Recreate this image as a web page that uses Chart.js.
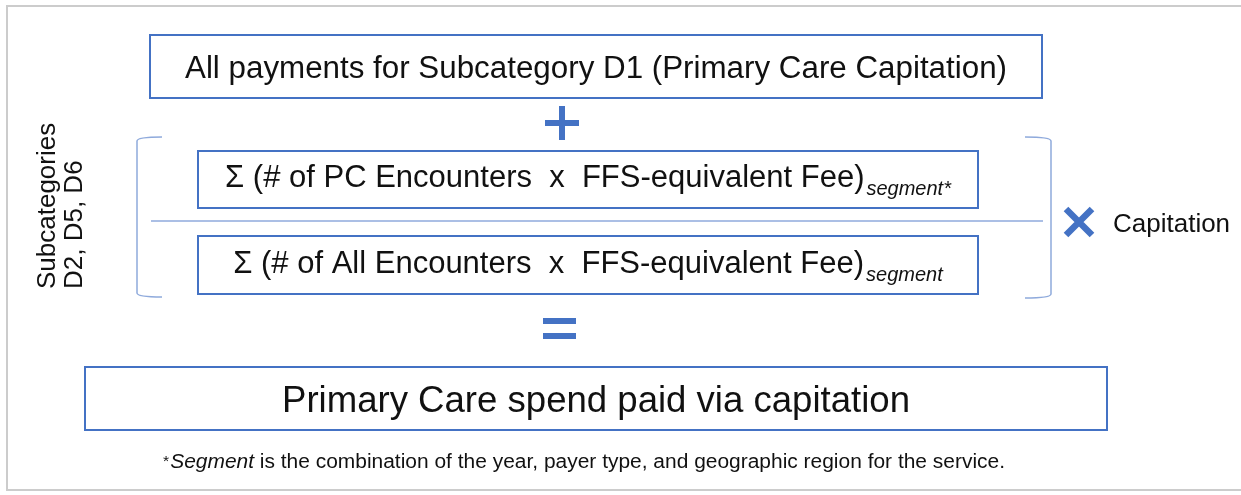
<!DOCTYPE html>
<html><head><meta charset="utf-8">
<script src="https://cdn.jsdelivr.net/npm/chart.js@4/dist/chart.umd.min.js"></script>
<style>html,body{margin:0;padding:0;background:#fff;overflow:hidden}canvas{display:block}</style>
</head><body>
<canvas id="c" width="1241" height="495"></canvas>
<script>
// ---- content (text only) ----
const headerTerms = ["All payments for Subcategory D1 (Primary Care Capitation)"];
const numeratorTerms = ["\u03A3 (# of PC Encounters  x  FFS-equivalent Fee)", "segment*"];
const denominatorTerms = ["\u03A3 (# of All Encounters  x  FFS-equivalent Fee)", "segment"];
const resultTerms = ["Primary Care spend paid via capitation"];
const sideLabels = ["Subcategories", "D2, D5, D6"];
const multiplierLabels = ["Capitation"];
const footnoteParts = ["*", "Segment", " is the combination of the year, payer type, and geographic region for the service."];

// ---- layout (diagram coordinates, mapped through chart scales) ----
const L = {
  frame: {x0: 7, y0: 6, x1: 1250, y1: 490},
  header: {x0: 150, y0: 35, x1: 1042, y1: 98, base: 78, size: 31, w: 822},
  plus: {cx: 562, cy: 123, len: 34, th: 6},
  num: {x0: 198, y0: 151, x1: 978, y1: 208, base: 187, size: 31, subSize: 20, subDy: 8},
  divider: {x0: 151, x1: 1043, y: 221},
  den: {x0: 198, y0: 236, x1: 978, y1: 294, base: 273, size: 31, subSize: 20, subDy: 8},
  leftBr: {x: 137, y0: 138, y1: 296, tick: 25},
  rightBr: {x: 1051, y0: 138, y1: 297, tick: -26},
  times: {cx: 1079, cy: 222, half: 13, th: 6.5},
  capLabel: {x: 1113, base: 232, size: 26},
  side: {y: 289, b1: 55, b2: 82, size: 26},
  equals: {x0: 543, x1: 576, y1: 321, y2: 336, th: 6},
  result: {x0: 85, y0: 367, x1: 1107, y1: 430, base: 412, size: 36.6, w: 628},
  foot: {x: 163, base: 468, size: 20, starSize: 15, w: 842}
};
const BLUE = "#4472C4", LIGHT = "#8FAADC", FRAME = "#CCCCCC", INK = "#111111";
const FONT = "'Liberation Sans', Arial, Helvetica, sans-serif";

const diagramPlugin = {
  id: 'diagram',
  afterDraw(chart) {
    const ctx = chart.ctx, sx = chart.scales.x, sy = chart.scales.y;
    const X = v => sx.getPixelForValue(v), Y = v => sy.getPixelForValue(v);
    ctx.save();
    // outer frame
    ctx.strokeStyle = FRAME; ctx.lineWidth = 2;
    ctx.strokeRect(X(L.frame.x0), Y(L.frame.y0), X(L.frame.x1) - X(L.frame.x0), Y(L.frame.y1) - Y(L.frame.y0));
    // boxes
    const box = b => { ctx.strokeStyle = BLUE; ctx.lineWidth = 2;
      ctx.strokeRect(X(b.x0), Y(b.y0), X(b.x1) - X(b.x0), Y(b.y1) - Y(b.y0)); };
    [L.header, L.num, L.den, L.result].forEach(box);
    // text helper
    const text = (str, font, x, y, align, targetW) => {
      ctx.font = font; ctx.fillStyle = INK; ctx.textBaseline = 'alphabetic';
      const nat = ctx.measureText(str).width;
      const k = targetW ? targetW / nat : 1;
      ctx.save(); ctx.translate(x, y); ctx.scale(k, 1);
      ctx.textAlign = align; ctx.fillText(str, 0, 0); ctx.restore();
      return nat * k;
    };
    const mid = b => (X(b.x0) + X(b.x1)) / 2;
    text(headerTerms[0], `${L.header.size}px ${FONT}`, mid(L.header), Y(L.header.base), 'center', L.header.w);
    text(resultTerms[0], `${L.result.size}px ${FONT}`, mid(L.result), Y(L.result.base), 'center', L.result.w);
    // fractions (main term + subscript, centred together in the box)
    [[L.num, numeratorTerms], [L.den, denominatorTerms]].forEach(([b, t]) => {
      ctx.font = `${b.size}px ${FONT}`; const wm = ctx.measureText(t[0]).width;
      ctx.font = `italic ${b.subSize}px ${FONT}`; const ws = ctx.measureText(t[1]).width;
      const x0 = mid(b) - (wm + 2 + ws) / 2;
      text(t[0], `${b.size}px ${FONT}`, x0, Y(b.base), 'left');
      text(t[1], `italic ${b.subSize}px ${FONT}`, x0 + wm + 2, Y(b.base + b.subDy), 'left');
    });
    // divider
    ctx.strokeStyle = LIGHT; ctx.lineWidth = 1.5;
    ctx.beginPath(); ctx.moveTo(X(L.divider.x0), Y(L.divider.y)); ctx.lineTo(X(L.divider.x1), Y(L.divider.y)); ctx.stroke();
    // brackets
    [L.leftBr, L.rightBr].forEach(br => {
      ctx.beginPath();
      ctx.moveTo(X(br.x + br.tick), Y(br.y0 - 1));
      ctx.quadraticCurveTo(X(br.x), Y(br.y0 - 1), X(br.x), Y(br.y0 + 3));
      ctx.lineTo(X(br.x), Y(br.y1 - 3));
      ctx.quadraticCurveTo(X(br.x), Y(br.y1 + 1), X(br.x + br.tick), Y(br.y1 + 1));
      ctx.stroke();
    });
    // plus
    ctx.fillStyle = BLUE;
    const p = L.plus;
    ctx.fillRect(X(p.cx - p.len / 2), Y(p.cy - p.th / 2), p.len, p.th);
    ctx.fillRect(X(p.cx - p.th / 2), Y(p.cy - p.len / 2), p.th, p.len);
    // equals
    const e = L.equals;
    ctx.fillRect(X(e.x0), Y(e.y1 - e.th / 2), X(e.x1) - X(e.x0), e.th);
    ctx.fillRect(X(e.x0), Y(e.y2 - e.th / 2), X(e.x1) - X(e.x0), e.th);
    // times
    const t = L.times;
    ctx.strokeStyle = BLUE; ctx.lineWidth = t.th; ctx.lineCap = 'butt';
    ctx.beginPath();
    ctx.moveTo(X(t.cx - t.half), Y(t.cy - t.half)); ctx.lineTo(X(t.cx + t.half), Y(t.cy + t.half));
    ctx.moveTo(X(t.cx + t.half), Y(t.cy - t.half)); ctx.lineTo(X(t.cx - t.half), Y(t.cy + t.half));
    ctx.stroke();
    text(multiplierLabels[0], `${L.capLabel.size}px ${FONT}`, X(L.capLabel.x), Y(L.capLabel.base), 'left');
    // side labels (rotated)
    const s = L.side;
    [[sideLabels[0], s.b1], [sideLabels[1], s.b2]].forEach(([str, bx]) => {
      ctx.save(); ctx.translate(X(bx), Y(s.y)); ctx.rotate(-Math.PI / 2);
      ctx.font = `${s.size}px ${FONT}`; ctx.fillStyle = INK; ctx.textAlign = 'left'; ctx.textBaseline = 'alphabetic';
      ctx.fillText(str, 0, 0); ctx.restore();
    });
    // footnote
    const f = L.foot;
    ctx.font = `${f.starSize}px ${FONT}`; const w0 = ctx.measureText(footnoteParts[0]).width;
    ctx.font = `italic ${f.size}px ${FONT}`; const w1 = ctx.measureText(footnoteParts[1]).width;
    ctx.font = `${f.size}px ${FONT}`; const w2 = ctx.measureText(footnoteParts[2]).width;
    const k = f.w / (w0 + 1 + w1 + w2);
    ctx.save(); ctx.translate(X(f.x), Y(f.base)); ctx.scale(k, 1); ctx.fillStyle = INK; ctx.textAlign = 'left';
    ctx.font = `${f.starSize}px ${FONT}`; ctx.fillText(footnoteParts[0], 0, -2);
    ctx.font = `italic ${f.size}px ${FONT}`; ctx.fillText(footnoteParts[1], w0 + 1, 0);
    ctx.font = `${f.size}px ${FONT}`; ctx.fillText(footnoteParts[2], w0 + 1 + w1, 0);
    ctx.restore();
    ctx.restore();
  }
};

new Chart(document.getElementById('c'), {
  type: 'scatter',
  data: { datasets: [{ data: [], pointRadius: 0 }] },
  options: {
    responsive: false, animation: false,
    layout: { padding: 0 },
    plugins: { legend: { display: false }, tooltip: { enabled: false } },
    scales: {
      x: { type: 'linear', min: 0, max: 1241, display: false },
      y: { type: 'linear', min: 0, max: 495, reverse: true, display: false }
    }
  },
  plugins: [diagramPlugin]
});
</script>
</body></html>
